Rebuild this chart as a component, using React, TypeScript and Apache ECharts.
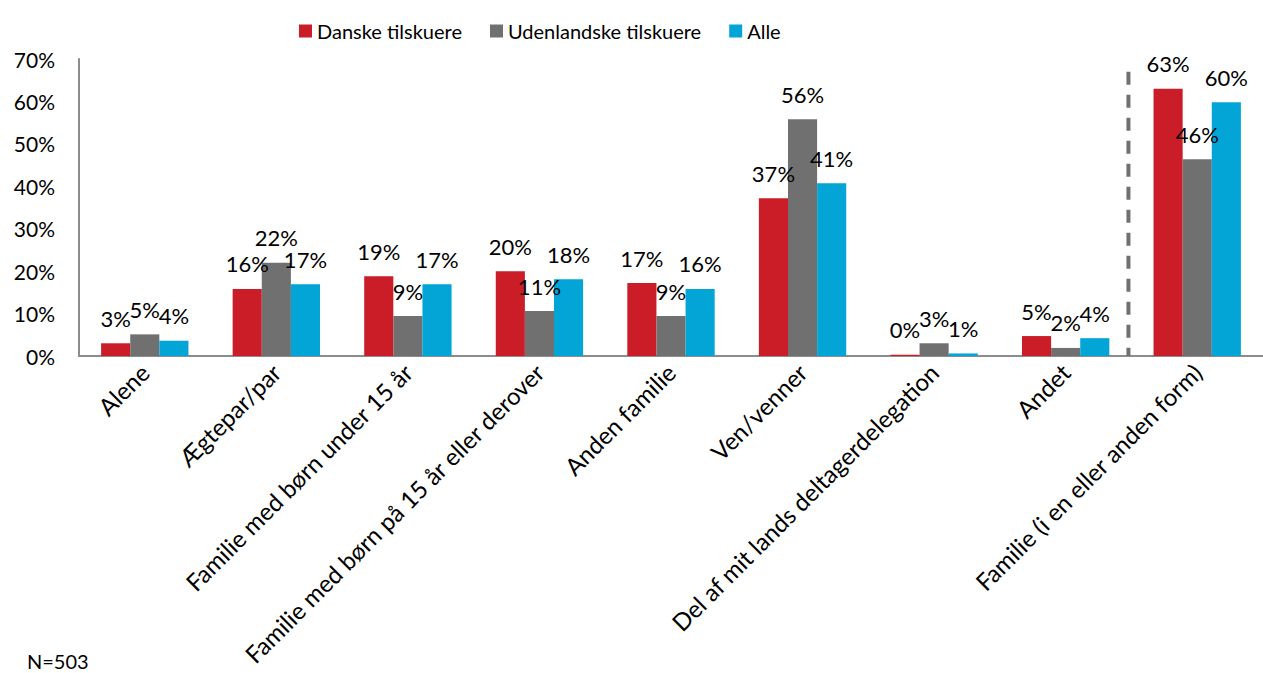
import React, { useEffect, useRef } from "react";
import * as echarts from "echarts";

const categories = [
  "Alene",
  "Ægtepar/par",
  "Familie med børn under 15 år",
  "Familie med børn på 15 år eller derover",
  "Anden familie",
  "Ven/venner",
  "Del af mit lands deltagerdelegation",
  "Andet",
  "Familie (i en eller anden form)",
];
const seriesNames = ["Danske tilskuere", "Udenlandske tilskuere", "Alle"];
const danske = [3.0, 15.8, 18.8, 20.0, 17.2, 37.2, 0.3, 4.7, 63.0];
const udenlandske = [5.1, 22.0, 9.4, 10.6, 9.4, 55.8, 3.0, 1.9, 46.4];
const alle = [3.6, 16.9, 16.9, 18.1, 15.8, 40.7, 0.6, 4.2, 59.8];
const yTicks = [0, 10, 20, 30, 40, 50, 60, 70];
const colors = ["#CB1D27", "#707070", "#03A5D6"];
const FONT = "Lato";

export default function App() {
  const ref = useRef<HTMLDivElement>(null);
  useEffect(() => {
    if (!ref.current) return;
    const chart = echarts.init(ref.current, null, { renderer: "svg" });
    const data = [danske, udenlandske, alle];
    const note = {
      type: "text",
      left: 27,
      top: 651,
      style: { text: "N=503", fontSize: 20, fill: "#000", fontFamily: FONT },
    };
    chart.setOption({
      animation: false,
      textStyle: { fontFamily: FONT },
      legend: {
        top: 16,
        left: 294,
        itemWidth: 13,
        itemHeight: 13,
        itemGap: 28,
        icon: "rect",
        textStyle: { fontSize: 20, color: "#000", fontFamily: FONT },
        data: seriesNames,
      },
      grid: { left: 79, right: -8, top: 59, bottom: 317, containLabel: false },
      xAxis: {
        type: "category",
        data: categories,
        axisLine: { lineStyle: { color: "#8C8C8C", width: 2 } },
        axisTick: { length: 7, lineStyle: { color: "#8C8C8C", width: 2 } },
        axisLabel: {
          rotate: 45,
          interval: 0,
          fontSize: 24,
          color: "#000",
          fontFamily: FONT,
          margin: 12,
        },
      },
      yAxis: {
        type: "value",
        min: yTicks[0],
        max: yTicks[yTicks.length - 1],
        interval: 10,
        splitLine: { show: false },
        axisLine: { show: true, lineStyle: { color: "#8C8C8C", width: 2 } },
        axisTick: { show: false },
        axisLabel: {
          formatter: (v: number) => v + "%",
          fontSize: 21,
          color: "#000",
          fontFamily: FONT,
          margin: 24,
        },
      },
      series: seriesNames.map((name, i) => ({
        name,
        type: "bar",
        data: data[i],
        barGap: "0%",
        barCategoryGap: "33.6%",
        itemStyle: { color: colors[i] },
        label: {
          show: true,
          position: "top",
          distance: 14,
          formatter: (p: any) => Math.round(p.value) + "%",
          fontSize: 22,
          color: "#000",
          fontFamily: FONT,
        },
      })),
      graphic: [note],
    });
    // dashed separator between "Andet" and "Familie (i en eller anden form)"
    const x7 = chart.convertToPixel({ xAxisIndex: 0 }, categories[7]) as number;
    const x8 = chart.convertToPixel({ xAxisIndex: 0 }, categories[8]) as number;
    const xSep = (x7 + x8) / 2 - 3;
    const yTop = chart.convertToPixel({ yAxisIndex: 0 }, 67) as number;
    const yBot = chart.convertToPixel({ yAxisIndex: 0 }, 0) as number;
    chart.setOption({
      graphic: [
        note,
        {
          type: "line",
          shape: { x1: xSep, y1: yTop, x2: xSep, y2: yBot },
          style: { stroke: "#707070", lineWidth: 4, lineDash: [13, 10] },
          z: 10,
        },
      ],
    });
    return () => chart.dispose();
  }, []);
  return (
    <div
      ref={ref}
      style={{ position: "fixed", left: 0, top: 0, width: 1263, height: 673, background: "#fff" }}
    />
  );
}
